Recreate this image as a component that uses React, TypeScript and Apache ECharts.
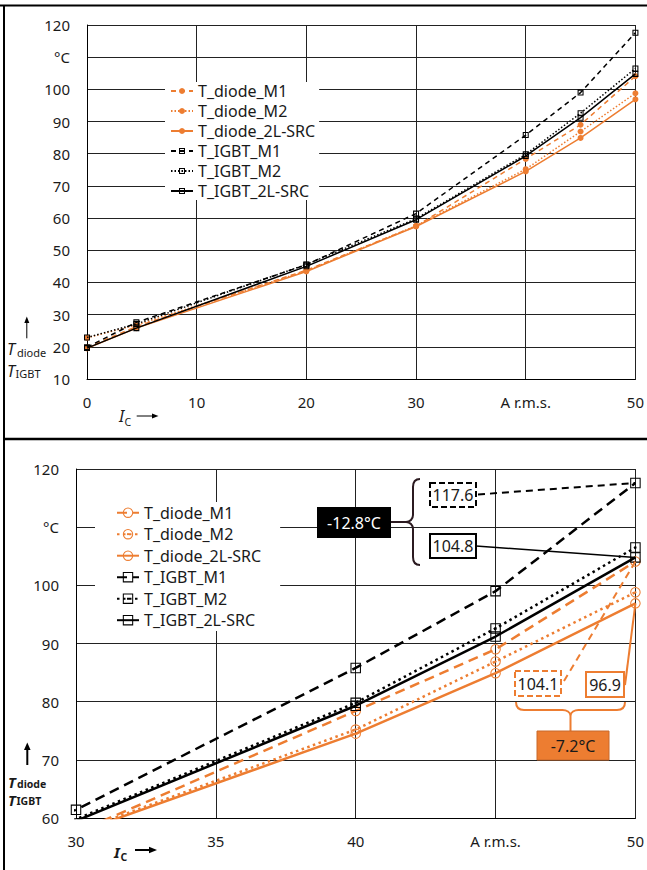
import React, { useEffect, useRef } from "react";
import * as echarts from "echarts";

// ---------- data ----------
const currents = [0, 4.5, 20, 30, 40, 45, 50];
const tDiodeM1 = [19.8, 26.3, 43.8, 57.5, 78.4, 89.0, 104.1];
const tDiodeM2 = [22.8, 26.8, 43.6, 57.6, 75.2, 86.9, 98.8];
const tDiode2L = [19.5, 25.8, 43.4, 57.4, 74.5, 84.9, 96.9];
const tIgbtM1 = [19.9, 27.6, 45.5, 61.4, 85.8, 99.0, 117.6];
const tIgbtM2 = [22.9, 27.1, 45.6, 59.8, 79.8, 92.6, 106.5];
const tIgbt2L = [19.6, 25.8, 45.0, 59.5, 79.3, 91.2, 104.8];

const seriesNames = [
  "T_diode_M1",
  "T_diode_M2",
  "T_diode_2L-SRC",
  "T_IGBT_M1",
  "T_IGBT_M2",
  "T_IGBT_2L-SRC",
];
const seriesValues = [tDiodeM1, tDiodeM2, tDiode2L, tIgbtM1, tIgbtM2, tIgbt2L];

const topXLabels = ["0", "10", "20", "30", "A r.m.s.", "50"];
const topYLabels = ["10", "20", "30", "40", "50", "60", "70", "80", "90", "100", "°C", "120"];
const bottomXLabels = ["30", "35", "40", "A r.m.s.", "50"];
const bottomYLabels = ["60", "70", "80", "90", "100", "°C", "120"];

// ---------- styles ----------
const FONT = "'Noto Sans', 'Open Sans', sans-serif";
const ORANGE = "#ED7D31";
const BLACK = "#000000";
const TXT = "#1a1a1a";
const GRIDC = "#222222";

const RING_D = "M10 0A10 10 0 1 1 10 20A10 10 0 1 1 10 0ZM10 2A8 8 0 1 0 10 18A8 8 0 1 0 10 2Z";
const DOTC_D = "M10 7.8A2.2 2.2 0 1 1 10 12.2A2.2 2.2 0 1 1 10 7.8Z";
const SQ_D = "M0 0L20 0L20 20L0 20ZM2 2L2 18L18 18L18 2Z";
const DOTS_D = "M8 8L12 8L12 12L8 12Z";
const SQT_D = "M0 0L20 0L20 20L0 20ZM3.5 3.5L3.5 16.5L16.5 16.5L16.5 3.5Z";

const RING = "path://" + RING_D;
const RING_DOT = "path://" + RING_D + DOTC_D;
const SQUARE = "path://" + SQ_D;
const SQUARE_DOT = "path://" + SQ_D + DOTS_D;
const SQUARE_TOP = "path://" + SQT_D;

const VBRACE_D = "M14 0C9 0 7 3 7 8L7 36C7 40 4 43 0 43C4 43 7 46 7 50L7 78C7 83 9 86 14 86";
const HBRACE_D =
  "M0 0C0 5 3 8 8 8L46.5 8C50.5 8 54.5 10 54.5 14C54.5 10 58.5 8 62.5 8L101 8C106 8 109 5 109 0M54.5 14L54.5 29";

echarts.graphic.registerShape("vbrace", echarts.graphic.extendPath(VBRACE_D, {}) as any);
echarts.graphic.registerShape("hbrace", echarts.graphic.extendPath(HBRACE_D, {}) as any);

function makeSeries(grid: number) {
  const top = grid === 0;
  return seriesNames.map((name, i) => {
    const isDiode = i < 3;
    const variant = i % 3;
    const color = isDiode ? ORANGE : BLACK;
    const dash: any =
      variant === 0 ? (top ? [5, 4] : [10, 6]) : variant === 1 ? (top ? [1.5, 2] : [2.5, 3.5]) : "solid";
    let symbol: string;
    if (top) symbol = isDiode ? "circle" : SQUARE_TOP;
    else symbol = isDiode ? (variant === 1 ? RING_DOT : RING) : variant === 1 ? SQUARE_DOT : SQUARE;
    return {
      type: "line",
      name: top ? name : "b:" + name,
      xAxisIndex: grid,
      yAxisIndex: grid,
      data: currents.map((x, k) => [x, seriesValues[i][k]]),
      symbol,
      symbolSize: top ? 6 : 10.5,
      showSymbol: true,
      clip: true,
      silent: true,
      lineStyle: { color, width: top ? 1.5 : 2.5, type: dash },
      itemStyle: { color, borderWidth: 0 },
      emphasis: { disabled: true },
      z: 2 + i * 0.01,
    };
  });
}

function axisLabel(labels: string[], min: number, step: number, margin: number) {
  return {
    margin,
    fontSize: 15,
    color: TXT,
    fontFamily: FONT,
    formatter: (v: number) => labels[Math.round((v - min) / step)] ?? "",
  };
}

const splitLine = { show: true, lineStyle: { color: GRIDC, width: 1 } };
const axisLine = { show: true, onZero: false, lineStyle: { color: BLACK, width: 1 } };

function buildOption() {
  return {
    animation: false,
    backgroundColor: "#ffffff",
    grid: [
      { left: 87, top: 25, width: 550, height: 354 },
      { left: 76, top: 469, width: 562, height: 349 },
    ],
    xAxis: [
      {
        gridIndex: 0,
        type: "value",
        min: 0,
        max: 50,
        interval: 10,
        axisLine,
        axisTick: { show: false },
        axisLabel: axisLabel(topXLabels, 0, 10, 15),
        splitLine,
      },
      {
        gridIndex: 1,
        type: "value",
        min: 30,
        max: 50,
        interval: 5,
        axisLine,
        axisTick: { show: false },
        axisLabel: axisLabel(bottomXLabels, 30, 5, 15),
        splitLine,
      },
    ],
    yAxis: [
      {
        gridIndex: 0,
        type: "value",
        min: 10,
        max: 120,
        interval: 10,
        axisLine,
        axisTick: { show: false },
        axisLabel: axisLabel(topYLabels, 10, 10, 17),
        splitLine,
      },
      {
        gridIndex: 1,
        type: "value",
        min: 60,
        max: 120,
        interval: 10,
        axisLine,
        axisTick: { show: false },
        axisLabel: axisLabel(bottomYLabels, 60, 10, 17),
        splitLine,
      },
    ],
    legend: [
      {
        left: 165,
        top: 82,
        orient: "vertical",
        itemWidth: 22,
        itemHeight: 7.5,
        itemGap: 4,
        padding: [1, 4, 1, 5],
        backgroundColor: "#ffffff",
        selectedMode: false,
        textStyle: { fontSize: 16, lineHeight: 16, fontFamily: FONT, color: TXT },
        data: seriesNames,
      },
      {
        left: 95,
        top: 502,
        orient: "vertical",
        itemWidth: 22,
        itemHeight: 13,
        itemGap: 5.5,
        padding: [2.7, 19, 2.8, 21],
        backgroundColor: "#ffffff",
        selectedMode: false,
        textStyle: { fontSize: 16, lineHeight: 16, fontFamily: FONT, color: TXT },
        formatter: (n: string) => n.replace(/^b:/, ""),
        data: seriesNames.map((n) => "b:" + n),
      },
    ],
    series: [...makeSeries(0), ...makeSeries(1)],
  };
}

function txt(x: number, y: number, text: string, o: any = {}) {
  return {
    type: "text",
    x,
    y,
    z: 100,
    silent: true,
    style: {
      text,
      fill: o.fill ?? TXT,
      fontSize: o.size ?? 16,
      fontFamily: FONT,
      fontStyle: o.italic ? "italic" : "normal",
      fontWeight: o.bold ? "bold" : "normal",
      align: o.align ?? "left",
      verticalAlign: "middle",
    },
  };
}

function ln(x1: number, y1: number, x2: number, y2: number, stroke: string, w: number, dash?: number[]) {
  return {
    type: "line",
    z: 100,
    silent: true,
    shape: { x1, y1, x2, y2 },
    style: { stroke, lineWidth: w, lineDash: dash ?? null },
  };
}

function tri(points: number[][], fill: string) {
  return { type: "polygon", z: 100, silent: true, shape: { points }, style: { fill } };
}

function box(x: number, y: number, w: number, h: number, fill: string, stroke: string, lw: number, dash?: number[]) {
  return {
    type: "rect",
    z: 100,
    silent: true,
    shape: { x, y, width: w, height: h },
    style: { fill, stroke, lineWidth: lw, lineDash: dash ?? null },
  };
}

function buildGraphics(p: (x: number, y: number) => number[]) {
  const last = currents.length - 1;
  const xEnd = currents[last];
  const pM1 = p(xEnd, tIgbtM1[last]);
  const p2L = p(xEnd, tIgbt2L[last]);
  const pdM1 = p(xEnd, tDiodeM1[last]);
  const pd2L = p(xEnd, tDiode2L[last]);
  const dIgbt = (tIgbt2L[last] - tIgbtM1[last]).toFixed(1) + "°C";
  const dDiode = (tDiode2L[last] - tDiodeM1[last]).toFixed(1) + "°C";
  const braceC = "#2b1a20";

  return [
    // frame
    ln(0, 5.5, 647, 5.5, BLACK, 2),
    ln(4, 5, 4, 870, BLACK, 2),
    ln(4, 439, 647, 439, BLACK, 2.5),

    // top axis titles
    ln(26.8, 338.3, 26.8, 321, BLACK, 1),
    tri([[26.8, 316.5], [24.3, 323], [29.3, 323]], BLACK),
    txt(7, 349, "T", { size: 16, italic: true }),
    txt(17, 352.5, "diode", { size: 11 }),
    txt(7, 370.8, "T", { size: 16, italic: true }),
    txt(15.5, 373, "IGBT", { size: 11 }),
    txt(119, 416, "I", { size: 16, italic: true }),
    txt(124.5, 421.5, "C", { size: 10.5 }),
    ln(136.7, 416, 153, 416, BLACK, 1),
    tri([[158.5, 416], [152, 413.5], [152, 418.5]], BLACK),

    // bottom axis titles
    ln(27.3, 765, 27.3, 748, BLACK, 2),
    tri([[27.3, 742.5], [24, 750], [30.6, 750]], BLACK),
    txt(8, 781.5, "T", { size: 14.5, italic: true, bold: true }),
    txt(17, 783.5, "diode", { size: 10.5, bold: true }),
    txt(8, 799.5, "T", { size: 14.5, italic: true, bold: true }),
    txt(16.5, 801, "IGBT", { size: 10.5, bold: true }),
    txt(114, 852, "I", { size: 15, italic: true, bold: true }),
    txt(120.5, 857, "C", { size: 10.5, bold: true }),
    ln(135, 850, 150, 850, BLACK, 2),
    tri([[157, 850], [149, 846.8], [149, 853.2]], BLACK),

    // IGBT annotation
    ln(478, 494.5, pM1[0], pM1[1], BLACK, 2, [7, 5]),
    ln(476, 546, p2L[0], p2L[1], BLACK, 1.5),
    box(430, 483, 46, 24, "#ffffff", BLACK, 2, [6, 3]),
    txt(453, 495, tIgbtM1[last].toFixed(1), { align: "center" }),
    box(430, 534, 46, 24, "#ffffff", BLACK, 2),
    txt(453, 546, tIgbt2L[last].toFixed(1), { align: "center" }),
    {
      type: "vbrace",
      x: 406,
      y: 479,
      z: 100,
      silent: true,
      style: { stroke: braceC, fill: "none", lineWidth: 2 },
    },
    ln(391, 522, 406, 522, braceC, 2),
    box(317, 507, 74, 31, BLACK, BLACK, 0),
    txt(354, 522.5, dIgbt, { align: "center", fill: "#ffffff" }),

    // diode annotation
    ln(564, 681, pdM1[0], pdM1[1], ORANGE, 2, [7, 5]),
    ln(625, 685, pd2L[0], pd2L[1], ORANGE, 2),
    box(515, 671, 46, 25, "#ffffff", ORANGE, 2, [6, 3]),
    txt(538, 683.5, tDiodeM1[last].toFixed(1), { align: "center" }),
    box(586, 672, 38, 25, "#ffffff", ORANGE, 2),
    txt(605, 684.5, tDiode2L[last].toFixed(1), { align: "center" }),
    {
      type: "hbrace",
      x: 516,
      y: 702,
      z: 100,
      silent: true,
      style: { stroke: ORANGE, fill: "none", lineWidth: 2 },
    },
    box(537, 731, 72, 29, ORANGE, "#c8692a", 1),
    txt(573, 745.5, dDiode, { align: "center" }),
  ];
}

export default function App() {
  const ref = useRef<HTMLDivElement>(null);
  useEffect(() => {
    const el = ref.current;
    if (!el) return;
    const chart = echarts.init(el, undefined, { renderer: "svg" });
    chart.setOption(buildOption() as any);
    const p = (x: number, y: number) => chart.convertToPixel({ gridIndex: 1 } as any, [x, y]) as number[];
    chart.setOption({ graphic: { elements: buildGraphics(p) } } as any);
    return () => chart.dispose();
  }, []);
  return (
    <div
      ref={ref}
      style={{ position: "absolute", left: 0, top: 0, width: 647, height: 870, background: "#fff" }}
    />
  );
}
